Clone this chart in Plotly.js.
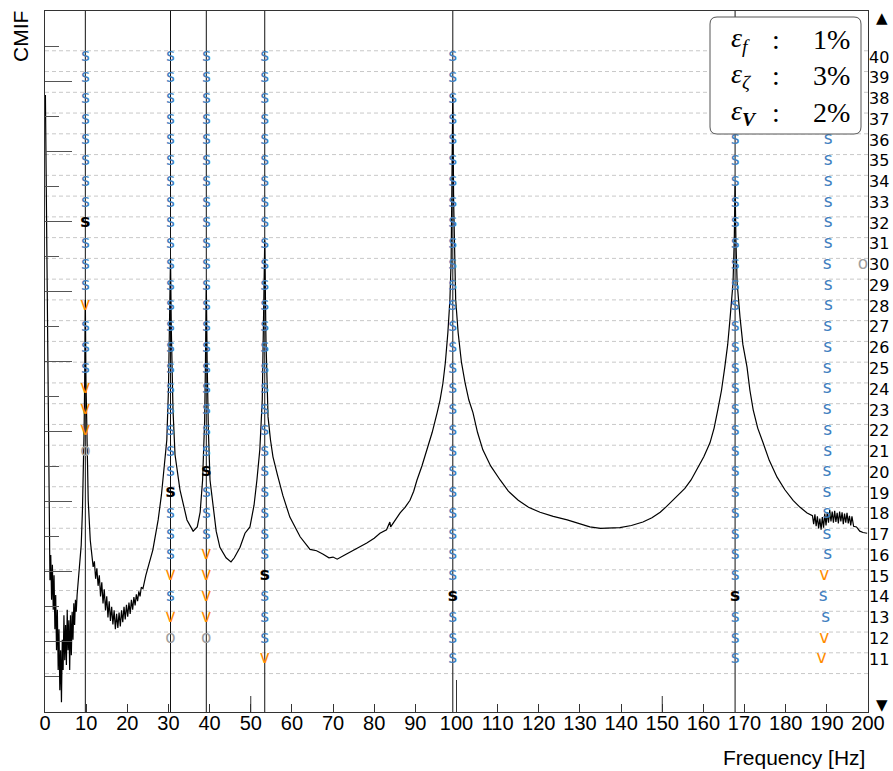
<!DOCTYPE html>
<html><head><meta charset="utf-8">
<script src="https://cdn.plot.ly/plotly-3.0.1.min.js"></script>
<style>html,body{margin:0;padding:0;background:#fff;}#chart{width:893px;height:771px;}</style>
</head><body><div id="chart"></div>
<script>
// ---- CMIF curve (frequency in Hz, level in arbitrary log units 0..100) ----
const cmifFreq = [0.1,0.3,0.6,0.85,1.0,1.2,1.4,1.6,1.8,2.0,2.2,2.4,2.6,2.8,3.0,3.2,3.4,3.6,3.8,4.0,4.2,4.4,4.6,4.8,5.0,5.2,5.4,5.6,5.8,6.0,6.2,6.4,6.6,6.8,7.0,7.2,7.4,7.6,7.8,8.0,8.4,8.8,9.1,9.3,9.5,9.65,9.8,9.95,10.2,10.5,11.0,11.7,
12.0,12.3,12.6,12.9,13.2,13.5,13.8,14.1,14.4,14.7,15.0,15.3,15.6,15.9,16.2,16.5,16.8,17.1,17.4,17.7,18.0,18.3,18.6,18.9,19.2,19.5,19.8,20.1,20.4,20.7,21.0,21.3,21.6,21.9,22.2,22.5,22.8,23.1,23.4,23.8,24.5,25.2,26.2,27.5,28.3,29.0,29.6,30.0,30.3,30.5,30.7,31.1,31.6,32.8,34.5,36.0,37.0,37.7,38.3,38.8,39.0,39.2,39.4,39.7,40.1,40.8,41.6,42.5,44.0,45.2,46.0,47.4,48.6,49.8,50.8,51.5,52.2,52.8,53.1,53.4,53.7,54.2,54.8,55.4,56.5,57.8,59.5,62.0,64.4,66.0,67.6,69.0,70.0,71.0,72.5,74.1,76.0,78.2,80.0,81.4,83.0,83.8,84.0,85.0,
86.3,87.5,88.7,89.6,90.4,91.6,92.8,94.1,95.3,96.0,96.7,97.3,97.9,98.4,98.7,98.9,99.1,99.3,99.5,99.8,100.4,101.2,102.1,103.0,104.0,105.1,106.4,108.3,110.6,112.6,115.0,117.5,120.3,123.5,126.9,129.5,132.4,135.0,137.5,139.7,142.5,145.3,147.5,149.5,151.0,152.6,154.0,155.5,157.0,158.4,160.1,161.6,162.6,163.5,164.4,165.2,165.9,166.5,167.2,167.5,167.7,167.9,168.2,168.9,169.6,170.6,171.3,172.1,173.2,174.5,176.0,177.9,179.8,181.8,183.5,185.2,186.5,
186.8,187.1,187.4,187.7,188.0,188.3,188.6,188.9,189.2,189.5,189.8,190.1,190.4,190.7,191.0,191.3,191.6,191.9,192.2,192.5,192.8,193.1,193.4,193.7,194.0,194.3,194.6,194.9,195.2,195.5,195.8,196.1,196.5,197.2,198.0,198.8,199.8];
const cmifLevel = [88.0,73.0,51.6,34.5,23.1,18.8,22.4,16.0,21.0,14.6,19.5,11.8,16.7,8.8,14.6,6.0,11.8,3.1,8.8,1.4,10.3,6.0,13.8,7.4,12.4,6.7,14.6,8.8,13.1,6.0,13.8,8.1,14.3,10.3,15.5,12.4,16.0,14.3,16.7,18.4,20.3,23.8,28.8,33.1,40.2,47.4,58.8,47.4,38.8,30.2,24.5,20.7,
21.5,19.0,20.5,18.0,19.5,16.5,18.5,15.5,17.5,14.5,16.5,13.5,15.8,13.0,15.0,12.5,14.5,11.8,14.0,12.0,14.2,12.2,14.5,12.8,15.0,13.2,15.3,13.6,15.6,14.0,16.0,14.6,16.4,15.2,16.8,15.8,17.2,16.5,17.8,17.6,19.5,21.0,23.1,27.4,31.0,35.2,38.8,45.9,55.9,64.8,54.5,43.1,36.7,31.7,27.4,25.8,26.4,28.5,33.1,41.7,50.2,60.9,50.2,40.2,33.1,29.5,25.8,23.5,22.0,21.4,22.0,23.5,25.5,26.4,29.5,33.1,37.4,44.5,54.5,67.3,53.0,42.1,38.8,36.4,33.8,30.9,27.8,25.0,23.2,23.0,22.5,22.0,22.1,21.8,22.3,22.8,23.3,24.1,24.8,25.5,26.0,27.1,26.4,27.3,
28.4,29.2,30.2,31.5,33.1,35.1,37.4,39.9,42.7,44.5,46.9,49.9,54.1,58.8,64.5,73.0,88.0,73.0,64.5,58.8,54.1,49.9,46.9,44.5,42.7,39.9,37.4,35.1,33.1,31.5,30.2,29.2,28.5,27.9,27.4,26.9,26.4,26.2,26.2,26.3,26.6,27.1,27.7,28.5,29.3,30.2,31.0,31.9,33.1,34.5,36.4,38.4,40.5,43.1,45.9,49.2,52.4,56.3,61.2,67.3,75.2,67.3,61.2,56.3,52.4,49.2,45.9,43.1,40.5,38.4,35.9,33.5,31.7,30.2,29.2,28.4,28.0,
26.8,28.2,26.5,27.9,26.2,27.6,26.0,27.8,26.3,28.3,26.6,28.5,27.0,28.8,27.2,28.6,27.0,28.7,27.1,28.4,26.9,28.6,27.2,28.5,26.8,28.3,27.0,28.4,26.9,28.0,26.6,27.9,26.5,26.4,25.8,25.6,25.5];

// ---- picked modes (Hz) ----
const modeFreq = [9.8, 30.5, 39.2, 53.4, 99.1, 167.7];

// ---- model orders (right axis) ----
const orders = [40,39,38,37,36,35,34,33,32,31,30,29,28,27,26,25,24,23,22,21,20,19,18,17,16,15,14,13,12,11];

// ---- stabilization codes per column, order 40 -> 11 ('s' stable, 'S' selected, 'v' vector, 'o' other, '-' none) ----
const stabA = 'sssss'+'sssSs'+'ssvss'+'svvvo'+'-----'+'-----';
const stabB = 'sssss'+'sssss'+'sssss'+'sssss'+'sSsss'+'vsvo-';
const stabC = 'sssss'+'sssss'+'sssss'+'sssss'+'Ssssv'+'vvvo-';
const stabD = 'sssss'+'sssss'+'sssss'+'sssss'+'sssss'+'Ssssv';
const stabE = 'sssss'+'sssss'+'sssss'+'sssss'+'sssss'+'sSsss';
const stabF = '----s'+'sssss'+'sssss'+'sssss'+'sssss'+'sSsss';
const stabG = '----s'+'sssss'+'sssss'+'sssss'+'sssss'+'vssvv';
const freqG = [190.3,190.3,190.3,190.3,190.3,190.3,190.3,190.3,190.3,190.3,190.1,190.3,190.4,190.2,190.2,190.1,190.1,190.1,190.2,190.2,190.0,190.0,190.0,190.0,190.2,189.4,189.1,189.7,189.4,188.7];
const extraOFreq = [198.8];
const extraOOrder = [30];

// ---- legend box ----
const legendSym = ['<i>ε</i><sub><i>f</i></sub>', '<i>ε</i><sub><i>ζ</i></sub>', '<i>ε</i><sub><b><i>V</i></b></sub>'];
const legendVal = ['1%', '3%', '2%'];

// ---------------------------------------------------------------
const cols = [
  {f: modeFreq[0], c: stabA}, {f: modeFreq[1], c: stabB}, {f: modeFreq[2], c: stabC},
  {f: modeFreq[3], c: stabD}, {f: modeFreq[4], c: stabE}, {f: modeFreq[5], c: stabF},
  {f: freqG, c: stabG}
];
const groups = {s:{x:[],y:[]}, S:{x:[],y:[]}, v:{x:[],y:[]}, o:{x:[],y:[]}};
cols.forEach(col => {
  orders.forEach((n, i) => {
    const ch = col.c[i];
    if (!ch || ch === '-') return;
    groups[ch].x.push(Array.isArray(col.f) ? col.f[i] : col.f);
    groups[ch].y.push(n);
  });
});
extraOFreq.forEach((f, i) => { groups.o.x.push(f); groups.o.y.push(extraOOrder[i]); });

const L = 45, T = 11, W = 823, H = 701;
const PX = p => (p - L) / W;
const PY = p => (T + H - p) / H;

function txtTrace(g, ch, color, weight) {
  return {x: g.x, y: g.y, xaxis: 'x', yaxis: 'y2', mode: 'text', text: g.x.map(() => ch),
    textposition: 'middle center', cliponaxis: true, hoverinfo: 'skip',
    textfont: {family: 'DejaVu Sans', size: 17, color: color, weight: weight}};
}

const traces = [
  {x: cmifFreq, y: cmifLevel, mode: 'lines', line: {color: '#000', width: 1.2}, hoverinfo: 'skip'},
  txtTrace(groups.s, 's', '#3f7fbf', 'normal'),
  txtTrace(groups.S, 's', '#000', 'bold'),
  txtTrace(groups.v, 'v', '#ff8c00', 'normal'),
  txtTrace(groups.o, 'o', '#a0a0a0', 'normal')
];

const shapes = [];
orders.concat([10]).forEach(n => {
  shapes.push({type: 'line', xref: 'paper', x0: 0, x1: 1, yref: 'y2', y0: n + 0.3, y1: n + 0.3,
    line: {color: '#c8c8c8', width: 1, dash: '4px,3px'}, layer: 'below'});
});
modeFreq.forEach(f => {
  shapes.push({type: 'line', xref: 'x', x0: f, x1: f, yref: 'paper', y0: 0, y1: 1,
    line: {color: '#111', width: 1}, layer: 'below'});
});
[[50, 16], [150, 16], [100, 32]].forEach(t => {
  shapes.push({type: 'line', xref: 'x', x0: t[0], x1: t[0], yref: 'paper', y0: 0, y1: t[1] / H,
    line: {color: '#333', width: 1}, layer: 'above'});
});
// legend rounded box
(function () {
  const x0 = PX(710), x1 = PX(861), y0 = PY(134), y1 = PY(17);
  const rx = 7 / W, ry = 7 / H;
  const p = `M ${x0 + rx},${y0} L ${x1 - rx},${y0} Q ${x1},${y0} ${x1},${y0 + ry} L ${x1},${y1 - ry} Q ${x1},${y1} ${x1 - rx},${y1} L ${x0 + rx},${y1} Q ${x0},${y1} ${x0},${y1 - ry} L ${x0},${y0 + ry} Q ${x0},${y0} ${x0 + rx},${y0} Z`;
  shapes.push({type: 'path', xref: 'paper', yref: 'paper', path: p, fillcolor: '#fff',
    line: {color: '#555', width: 1}, layer: 'above'});
})();

const annotations = [
  {text: 'CMIF', xref: 'paper', yref: 'paper', x: PX(21), y: PY(37), textangle: -90, showarrow: false,
    xanchor: 'center', yanchor: 'middle', font: {family: 'Liberation Sans', size: 21, color: '#000'}},
  {text: 'Frequency [Hz]', xref: 'paper', yref: 'paper', x: PX(867), y: PY(757), showarrow: false,
    xanchor: 'right', yanchor: 'middle', font: {family: 'Liberation Sans', size: 21, color: '#000'}},
  {text: '▲', xref: 'paper', yref: 'paper', x: PX(882), y: PY(18), showarrow: false,
    xanchor: 'center', yanchor: 'middle', font: {family: 'DejaVu Sans', size: 15, color: '#000'}},
  {text: '▼', xref: 'paper', yref: 'paper', x: PX(882), y: PY(705), showarrow: false,
    xanchor: 'center', yanchor: 'middle', font: {family: 'DejaVu Sans', size: 15, color: '#000'}}
];
const lineY = [39, 76, 112];
legendSym.forEach((s, i) => {
  const f = {family: 'Liberation Serif', size: 28, color: '#000'};
  annotations.push({text: s, xref: 'paper', yref: 'paper', x: PX(729), y: PY(lineY[i]), showarrow: false, xanchor: 'left', yanchor: 'middle', font: f});
  annotations.push({text: ':', xref: 'paper', yref: 'paper', x: PX(776), y: PY(lineY[i]), showarrow: false, xanchor: 'center', yanchor: 'middle', font: f});
  annotations.push({text: legendVal[i], xref: 'paper', yref: 'paper', x: PX(852), y: PY(lineY[i]), showarrow: false, xanchor: 'right', yanchor: 'middle', font: f});
});

const layout = {
  width: 893, height: 771, margin: {l: 45, r: 25, t: 11, b: 59, pad: 0},
  paper_bgcolor: '#fff', plot_bgcolor: '#fff', showlegend: false,
  font: {family: 'Liberation Sans, Arial, sans-serif', color: '#000'},
  xaxis: {range: [0, 200], tick0: 0, dtick: 10, ticks: 'inside', ticklen: 8, tickcolor: '#333', tickwidth: 1,
    showline: true, linecolor: '#333', linewidth: 1, mirror: true, showgrid: false, zeroline: false,
    ticklabelposition: 'outside', ticklabelstandoff: -7,
    tickfont: {family: 'Liberation Sans', size: 20, color: '#000'}},
  yaxis: {range: [0, 100], tick0: 0, dtick: 10, ticks: 'inside', ticklen: 27, tickcolor: '#555', tickwidth: 1,
    showticklabels: false, showline: true, linecolor: '#333', linewidth: 1, mirror: true, showgrid: false, zeroline: false,
    minor: {tick0: 0, dtick: 5, ticks: 'inside', ticklen: 14, tickcolor: '#555', tickwidth: 1, showgrid: false}},
  yaxis2: {overlaying: 'y', side: 'right', range: [8.449, 42.216], tickmode: 'array', tickvals: orders,
    ticktext: orders.map(String), ticks: '', showgrid: false, zeroline: false, showline: false,
    tickfont: {family: 'DejaVu Sans', size: 16, color: '#000'}},
  shapes: shapes, annotations: annotations
};

Plotly.newPlot('chart', traces, layout, {displayModeBar: false, staticPlot: true});
</script></body></html>
